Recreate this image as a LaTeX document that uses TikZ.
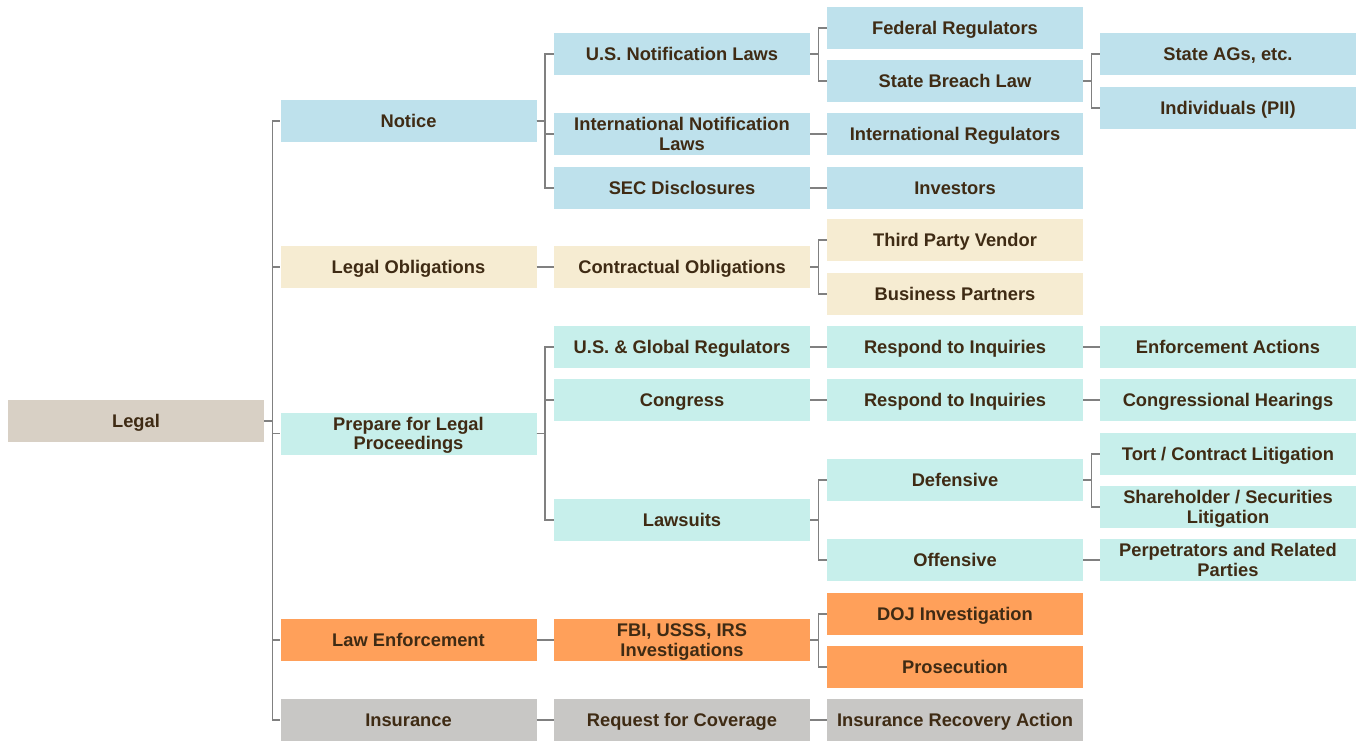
\documentclass[tikz,border=0pt]{standalone}
\usepackage{fontspec}
\setmainfont{Liberation Sans}
\definecolor{ink}{HTML}{3F2B14}
\definecolor{wire}{HTML}{808080}
\definecolor{rootfill}{HTML}{D8D0C5}
\definecolor{bluefill}{HTML}{BEE1EC}
\definecolor{creamfill}{HTML}{F6ECD2}
\definecolor{cyanfill}{HTML}{C7EFEB}
\definecolor{orangefill}{HTML}{FFA05A}
\definecolor{grayfill}{HTML}{C8C7C5}

\begin{document}
\begin{tikzpicture}[x=1pt,y=-1pt,
    box/.style={minimum width=256pt, minimum height=42pt, inner sep=0pt,
      text depth=0pt, align=center, text=ink,
      font=\fontsize{18.3}{19.5}\selectfont\bfseries},
    root/.style={box, fill=rootfill},
    notice/.style={box, fill=bluefill},
    oblig/.style={box, fill=creamfill},
    proc/.style={box, fill=cyanfill},
    enforce/.style={box, fill=orangefill},
    insure/.style={box, fill=grayfill},
    link/.style={draw=wire, line width=1.5pt}]
  \useasboundingbox (0,0) rectangle (1359,740);

  % root
  \node[root] (legal) at (136,421) {Legal};

  % first level
  \node[notice]  (notice)  at (408.5,121)   {Notice};
  \node[oblig]   (obligs)  at (408.5,267)   {Legal Obligations};
  \node[proc]    (prepare) at (408.5,433.5) {Prepare for Legal\\Proceedings};
  \node[enforce] (lawenf)  at (408.5,640)   {Law Enforcement};
  \node[insure]  (insur)   at (408.5,720)   {Insurance};

  % second level
  \node[notice]  (usnotif)   at (682,54)  {U.S. Notification Laws};
  \node[notice]  (intlnotif) at (682,134) {International Notification\\Laws};
  \node[notice]  (sec)       at (682,188) {SEC Disclosures};
  \node[oblig]   (contract)  at (682,267) {Contractual Obligations};
  \node[proc]    (usglobal)  at (682,347) {U.S. \& Global Regulators};
  \node[proc]    (congress)  at (682,400) {Congress};
  \node[proc]    (lawsuits)  at (682,520) {Lawsuits};
  \node[enforce] (fbi)       at (682,640) {FBI, USSS, IRS\\Investigations};
  \node[insure]  (request)   at (682,720) {Request for Coverage};

  % third level
  \node[notice]  (federal)    at (955,28)  {Federal Regulators};
  \node[notice]  (statebr)    at (955,81)  {State Breach Law};
  \node[notice]  (intlreg)    at (955,134) {International Regulators};
  \node[notice]  (investors)  at (955,188) {Investors};
  \node[oblig]   (vendor)     at (955,240) {Third Party Vendor};
  \node[oblig]   (partners)   at (955,294) {Business Partners};
  \node[proc]    (respondA)   at (955,347) {Respond to Inquiries};
  \node[proc]    (respondB)   at (955,400) {Respond to Inquiries};
  \node[proc]    (defensive)  at (955,480) {Defensive};
  \node[proc]    (offensive)  at (955,560) {Offensive};
  \node[enforce] (doj)        at (955,614) {DOJ Investigation};
  \node[enforce] (prosecute)  at (955,667) {Prosecution};
  \node[insure]  (recovery)   at (955,720) {Insurance Recovery Action};

  % fourth level
  \node[notice] (stateags)    at (1228,54)  {State AGs, etc.};
  \node[notice] (individuals) at (1228,108) {Individuals (PII)};
  \node[proc]   (enfactions)  at (1228,347) {Enforcement Actions};
  \node[proc]   (hearings)    at (1228,400) {Congressional Hearings};
  \node[proc]   (tort)        at (1228,454) {Tort / Contract Litigation};
  \node[proc]   (sharehold)   at (1228,507) {Shareholder / Securities\\Litigation};
  \node[proc]   (perps)       at (1228,560) {Perpetrators and Related\\Parties};

  % elbow connectors, parent -> child
  \foreach \p/\c in {legal/notice, legal/obligs, legal/prepare, legal/lawenf, legal/insur,
      notice/usnotif, notice/intlnotif, notice/sec, obligs/contract,
      prepare/usglobal, prepare/congress, prepare/lawsuits, lawenf/fbi, insur/request,
      usnotif/federal, usnotif/statebr, intlnotif/intlreg, sec/investors,
      contract/vendor, contract/partners, usglobal/respondA, congress/respondB,
      lawsuits/defensive, lawsuits/offensive, fbi/doj, fbi/prosecute, request/recovery,
      statebr/stateags, statebr/individuals, respondA/enfactions, respondB/hearings,
      defensive/tort, defensive/sharehold, offensive/perps}
    \draw[link] (\p.east) -- ++(8.5,0) |- (\c.west);
\end{tikzpicture}
\end{document}
